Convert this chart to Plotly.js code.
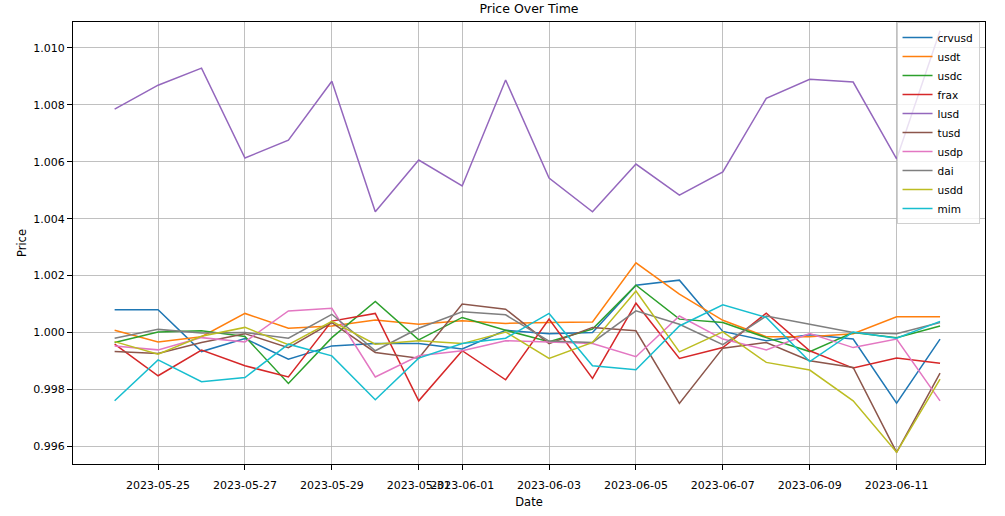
<!DOCTYPE html>
<html>
<head>
<meta charset="utf-8">
<script src="https://cdn.plot.ly/plotly-3.0.1.min.js"></script>
<style>html,body{margin:0;padding:0;background:#fff}#chart{width:1005px;height:516px}</style>
</head>
<body>
<div id="chart"></div>
<script>
const dates = ["2023-05-24","2023-05-25","2023-05-26","2023-05-27","2023-05-28","2023-05-29","2023-05-30","2023-05-31","2023-06-01","2023-06-02","2023-06-03","2023-06-04","2023-06-05","2023-06-06","2023-06-07","2023-06-08","2023-06-09","2023-06-10","2023-06-11","2023-06-12"];

const crvusd = [1.0008,1.0008,0.99933,0.99979,0.99906,0.99953,0.99961,0.99961,0.99942,1.00008,0.99996,1.0,1.00166,1.00184,1.00004,0.99971,0.99992,0.99977,0.99752,0.99977];
const usdt   = [1.00008,0.99967,0.99985,1.00067,1.00015,1.00023,1.00044,1.00029,1.00041,1.00032,1.00035,1.00037,1.00245,1.00135,1.00043,0.99985,0.99985,0.99996,1.00055,1.00055];
const usdc   = [0.99965,1.00002,1.00006,0.99986,0.99821,0.99982,1.00109,0.99974,1.00053,1.00008,0.99968,1.00012,1.00166,1.00047,1.00035,0.99982,0.99933,1.0,0.99982,1.00023];
const frax   = [0.99959,0.99848,0.99938,0.99883,0.99844,1.0004,1.00067,0.9976,0.99936,0.99834,1.00047,0.99839,1.00103,0.99909,0.99947,1.00068,0.99936,0.99875,0.9991,0.99892];
const lusd   = [1.00785,1.00869,1.00929,1.00613,1.00676,1.00883,1.00424,1.00606,1.00515,1.00887,1.00543,1.00424,1.00592,1.00483,1.00564,1.00823,1.0089,1.0088,1.0061,1.0106];
const tusd   = [0.99933,0.99926,0.99965,0.99996,0.99947,1.00035,0.9993,0.9991,1.001,1.00082,0.99961,1.00018,1.00006,0.99751,0.99945,0.99965,0.99901,0.99877,0.99579,0.99857];
const usdp   = [0.99953,0.99939,0.99982,0.99967,1.00076,1.00085,0.99844,0.99918,0.99936,0.99971,0.99967,0.99961,0.99915,1.00058,0.99977,0.99939,0.99996,0.99947,0.99977,0.9976];
const dai    = [0.9998,1.00011,0.99998,1.0,0.9998,1.00064,0.99936,1.00015,1.00073,1.00062,0.9997,0.99965,1.00076,1.00029,0.99957,1.00058,1.00029,1.0,0.99996,1.00035];
const usdd   = [0.99968,0.99924,0.99987,1.00018,0.99957,1.00039,0.99959,0.99971,0.99961,1.00002,0.99909,0.99965,1.00146,0.99932,1.00002,0.99895,0.99868,0.9976,0.99579,0.99836];
const mim    = [0.9976,0.99904,0.99827,0.99842,0.99959,0.99918,0.99764,0.9991,0.99961,0.9998,1.00067,0.99883,0.99869,1.00023,1.00097,1.00053,0.99898,1.00002,0.9998,1.00039];

const seriesNames = ["crvusd","usdt","usdc","frax","lusd","tusd","usdp","dai","usdd","mim"];
const seriesValues = [crvusd,usdt,usdc,frax,lusd,tusd,usdp,dai,usdd,mim];
const colors = ["#1f77b4","#ff7f0e","#2ca02c","#d62728","#9467bd","#8c564b","#e377c2","#7f7f7f","#bcbd22","#17becf"];

const xTickVals = ["2023-05-25","2023-05-27","2023-05-29","2023-05-31","2023-06-01","2023-06-03","2023-06-05","2023-06-07","2023-06-09","2023-06-11"];
const yTickVals = [0.996,0.998,1.000,1.002,1.004,1.006,1.008,1.010];
const yTickText = ["0.996","0.998","1.000","1.002","1.004","1.006","1.008","1.010"];

const traces = seriesNames.map((n,i)=>({
  x: dates, y: seriesValues[i], name: n, type: 'scatter', mode: 'lines',
  line: {color: colors[i], width: 1.5}
}));

const font = "DejaVu Sans, sans-serif";
const layout = {
  width: 1005, height: 516,
  margin: {l: 73, r: 20, t: 22, b: 52},
  paper_bgcolor: '#fff', plot_bgcolor: '#fff',
  font: {family: font, size: 11, color: '#000'},
  title: {text: 'Price Over Time', x: 0.5, xref: 'paper', y: 1 - 9/516, yref: 'container', yanchor: 'middle', font: {family: font, size: 12.5, color: '#000'}},
  xaxis: {
    type: 'date',
    range: ['2023-05-23T01:00', '2023-06-13T00:50'],
    tickvals: xTickVals, ticktext: xTickVals, tickangle: 0,
    showgrid: true, gridcolor: '#b0b0b0', gridwidth: 0.8,
    showline: true, linecolor: '#000', linewidth: 1, mirror: true,
    ticks: 'outside', ticklen: 5, tickcolor: '#000', tickwidth: 1,
    ticklabelstandoff: 6,
    zeroline: false,
    tickfont: {family: font, size: 11, color: '#000'},
    title: {text: 'Date', font: {family: font, size: 11.5, color: '#000'}, standoff: 6}
  },
  yaxis: {
    range: [0.99538, 1.01091],
    tickvals: yTickVals, ticktext: yTickText,
    showgrid: true, gridcolor: '#b0b0b0', gridwidth: 0.8,
    showline: true, linecolor: '#000', linewidth: 1, mirror: true,
    ticks: 'outside', ticklen: 5, tickcolor: '#000', tickwidth: 1,
    zeroline: false,
    tickfont: {family: font, size: 11, color: '#000'},
    title: {text: 'Price', font: {family: font, size: 11.5, color: '#000'}, standoff: 4}
  },
  showlegend: true,
  legend: {
    x: 0.994, y: 1.0, xanchor: 'right', yanchor: 'top',
    bgcolor: 'rgba(255,255,255,0.8)', bordercolor: '#d0d0d0', borderwidth: 1,
    font: {family: font, size: 10.5, color: '#000'},
    tracegroupgap: 0, itemwidth: 30
  }
};

Plotly.newPlot('chart', traces, layout, {displayModeBar: false, staticPlot: true});
</script>
</body>
</html>
